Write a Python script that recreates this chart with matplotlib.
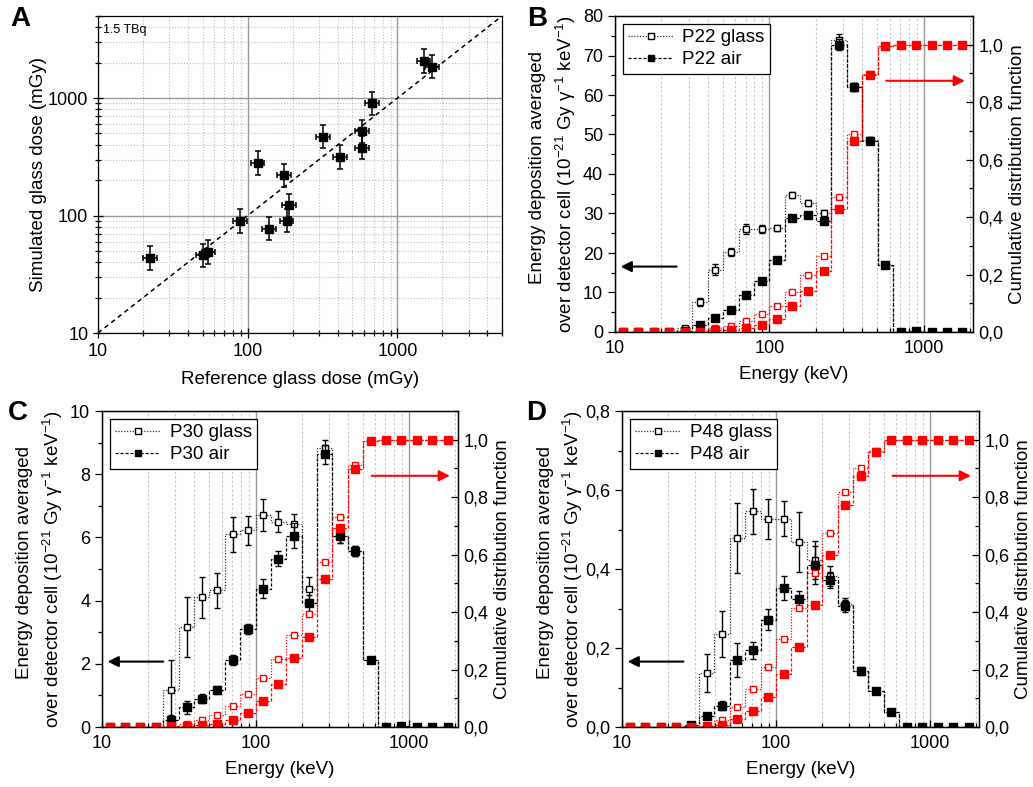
import numpy as np
import matplotlib.pyplot as plt
from matplotlib.transforms import ScaledTranslation
from matplotlib.ticker import LogLocator, FuncFormatter, NullFormatter, MultipleLocator, FixedLocator

plt.rcParams['font.family'] = ['Liberation Sans', 'DejaVu Sans']
plt.rcParams['mathtext.default'] = 'regular'
plt.rcParams['axes.linewidth'] = 0.9

# ---- panel A: reference vs simulated glass dose (mGy) ----
ref_dose = [22.2, 50, 54.6, 88.9, 116.7, 139, 175, 182, 189, 319, 413, 580, 580, 676, 1500, 1706]
sim_dose = [43.6, 45.7, 49.1, 90, 281, 77.4, 220, 90.6, 122, 469, 314, 521, 378, 900, 2075, 1857]
ref_err_dex = 0.045   # half width of horizontal error bars (log10 units)
sim_err_dex = 0.10    # half width of vertical error bars (log10 units)

# ---- energy bins (keV) for panels B-D ----
bin_edges = [10, 12.6, 15.8, 20, 25.1, 31.6, 39.8, 50.1, 63.1, 79.4, 100, 126, 158, 200,
             251, 316, 398, 501, 631, 794, 1000, 1259, 1585, 1995]
bin_centres = [11.2, 14.1, 17.8, 22.4, 28.2, 35.5, 44.7, 56.2, 70.8, 89.1, 112, 141, 178,
               224, 282, 355, 447, 562, 708, 891, 1122, 1413, 1778]

# P22
p22_glass = [0, 0, 0, 0, 1.0, 7.5, 15.8, 20.2, 26.1, 26.0, 26.3, 34.7, 32.7, 30.1, 73.9, 62.1,
             48.5, 16.9, 0, 0, 0, 0, 0]
p22_glass_err = [0, 0, 0, 0, 0.4, 1.0, 1.3, 1.0, 1.2, 1.0, 0.8, 0.8, 0.7, 0.7, 1.5, 1.0,
                 0.8, 0.4, 0, 0, 0, 0, 0]
p22_air = [0, 0, 0, 0, 0.3, 1.8, 3.5, 5.6, 9.3, 13.0, 18.2, 28.8, 29.6, 28.2, 72.7, 62.1,
           48.3, 16.9, 0, 0.3, 0, 0, 0]
p22_air_err = [0, 0, 0, 0, 0.1, 0.2, 0.3, 0.4, 0.5, 0.6, 0.6, 0.8, 0.8, 0.8, 1.4, 1.0,
               0.8, 0.4, 0, 0, 0, 0, 0]
p22_glass_cdf = [0, 0, 0, 0, 0.002, 0.005, 0.014, 0.020, 0.037, 0.062, 0.091, 0.138, 0.197,
                 0.264, 0.470, 0.688, 0.898, 0.997, 1.0, 1.0, 1.0, 1.0, 1.0]
p22_air_cdf = [0, 0, 0, 0, 0, 0.001, 0.008, 0.006, 0.014, 0.024, 0.045, 0.090, 0.144,
               0.212, 0.429, 0.665, 0.894, 0.997, 1.0, 1.0, 1.0, 1.0, 1.0]

# P30
p30_glass = [0, 0, 0, 0, 1.16, 3.16, 4.11, 4.32, 6.10, 6.22, 6.71, 6.50, 6.42, 4.38, 8.82, 6.03,
             5.57, 2.11, 0, 0, 0, 0, 0]
p30_glass_err = [0, 0, 0, 0, 0.95, 0.95, 0.65, 0.56, 0.56, 0.45, 0.50, 0.33, 0.33, 0.36, 0.27,
                 0.2, 0.15, 0.1, 0, 0, 0, 0, 0]
p30_air = [0, 0, 0, 0, 0.23, 0.62, 0.90, 1.18, 2.12, 3.10, 4.37, 5.33, 6.06, 3.93, 8.63, 6.03,
           5.57, 2.11, 0, 0.02, 0, 0, 0]
p30_air_err = [0, 0, 0, 0, 0.15, 0.2, 0.13, 0.12, 0.15, 0.17, 0.3, 0.25, 0.38, 0.25, 0.3,
               0.2, 0.15, 0.1, 0, 0, 0, 0, 0]
p30_glass_cdf = [0, 0, 0, 0, 0.001, 0.010, 0.026, 0.043, 0.073, 0.114, 0.170, 0.236, 0.320,
                 0.393, 0.573, 0.731, 0.913, 0.997, 1.0, 1.0, 1.0, 1.0, 1.0]
p30_air_cdf = [0, 0, 0, 0, 0.002, 0.003, 0.006, 0.012, 0.026, 0.047, 0.090, 0.150, 0.240,
               0.312, 0.514, 0.692, 0.898, 0.997, 1.0, 1.0, 1.0, 1.0, 1.0]

# P48
p48_glass = [0, 0, 0, 0, 0.003, 0.137, 0.235, 0.478, 0.546, 0.527, 0.527, 0.468, 0.422, 0.383,
             0.311, 0.142, 0.090, 0.038, 0, 0, 0, 0, 0]
p48_glass_err = [0, 0, 0, 0, 0, 0.048, 0.058, 0.089, 0.057, 0.050, 0.044, 0.076, 0.048, 0.025,
                 0.015, 0.008, 0.005, 0.003, 0, 0, 0, 0, 0]
p48_air = [0, 0, 0, 0, 0.006, 0.027, 0.054, 0.169, 0.194, 0.272, 0.352, 0.325, 0.410, 0.373,
           0.307, 0.141, 0.090, 0.038, 0, 0, 0, 0, 0]
p48_air_err = [0, 0, 0, 0, 0.003, 0.007, 0.012, 0.043, 0.021, 0.026, 0.030, 0.020, 0.047, 0.020,
               0.015, 0.010, 0.005, 0.003, 0, 0, 0, 0, 0]
p48_glass_cdf = [0, 0, 0, 0, 0, 0.002, 0.026, 0.069, 0.131, 0.208, 0.306, 0.413, 0.536, 0.676,
                 0.819, 0.901, 0.962, 1.0, 1.0, 1.0, 1.0, 1.0, 1.0]
p48_air_cdf = [0, 0, 0, 0, 0, 0.002, 0.008, 0.028, 0.055, 0.105, 0.185, 0.278, 0.426, 0.597,
               0.773, 0.874, 0.958, 1.0, 1.0, 1.0, 1.0, 1.0, 1.0]

FS = 13
W, H = 1033, 787


def box(l, t, r, b):
  return [l / W, 1 - b / H, (r - l) / W, (b - t) / H]


def comma(v, pos):
  return ('%.1f' % v).replace('.', ',')


def draw_dose_panel(ax):
  x = np.array(ref_dose)
  y = np.array(sim_dose)
  xerr = [x - x / 10 ** ref_err_dex, x * 10 ** ref_err_dex - x]
  yerr = [y - y / 10 ** sim_err_dex, y * 10 ** sim_err_dex - y]
  ax.plot([10, 5000], [10, 5000], color='k', ls=(0, (3, 2.5)), lw=1.1, zorder=2)
  ax.errorbar(x, y, xerr=xerr, yerr=yerr, fmt='s', color='k', ms=5.2, elinewidth=1.1,
              capsize=2.5, capthick=1.1, zorder=3)
  ax.set_xscale('log')
  ax.set_yscale('log')
  ax.set_xlim(10, 5000)
  ax.set_ylim(10, 5000)
  for axis in (ax.xaxis, ax.yaxis):
    axis.set_major_locator(FixedLocator([10, 100, 1000]))
    axis.set_major_formatter(FuncFormatter(lambda v, p: '%d' % v))
    axis.set_minor_locator(LogLocator(base=10, subs=np.arange(2, 10)))
    axis.set_minor_formatter(NullFormatter())
  ax.grid(True, which='major', color='#9a9a9a', lw=1.0, ls='-')
  ax.grid(True, which='minor', color='#bdbdbd', lw=0.8, ls=':')
  ax.tick_params(which='major', direction='inout', length=7, width=0.9, labelsize=FS)
  ax.tick_params(which='minor', direction='inout', length=4, width=0.9)
  ax.set_xlabel('Reference glass dose (mGy)', fontsize=FS + 0.5, labelpad=8)
  ax.set_ylabel('Simulated glass dose (mGy)', fontsize=FS + 0.5, labelpad=1)
  ax.text(0.012, 0.975, '1.5 TBq', transform=ax.transAxes, fontsize=9, va='top', ha='left')


def draw_spectrum_panel(ax, name, glass, glass_err, air, air_err, glass_cdf, air_cdf, ymax, ystep, yfmt):
  ax.stairs(glass, bin_edges, baseline=None, color='#333333', ls=(0, (1, 1.3)), lw=0.9, zorder=2)
  ax.stairs(air, bin_edges, baseline=None, color='k', ls=(0, (2.5, 1.5)), lw=0.9, zorder=2)
  ax.errorbar(bin_centres, glass, yerr=glass_err, fmt='s', mfc='white', mec='k', color='k',
              ms=5, mew=1.0, elinewidth=1.0, capsize=2, capthick=1.0, zorder=3)
  ax.errorbar(bin_centres, air, yerr=air_err, fmt='s', mfc='k', mec='k', color='k',
              ms=5.5, elinewidth=1.0, capsize=2, capthick=1.0, zorder=4)
  # legend proxies
  ax.plot([], [], color='#333333', ls=(0, (1, 1.3)), lw=0.9, marker='s', mfc='white', mec='k',
          ms=4, label=name + ' glass')
  ax.plot([], [], color='k', ls=(0, (2.5, 1.5)), lw=0.9, marker='s', mfc='k', mec='k',
          ms=5, label=name + ' air')
  ax.set_xscale('log')
  ax.set_xlim(10, 2080)
  ax.set_ylim(0, ymax)
  ax.xaxis.set_major_locator(FixedLocator([10, 100, 1000]))
  ax.xaxis.set_major_formatter(FuncFormatter(lambda v, p: '%d' % v))
  ax.xaxis.set_minor_locator(LogLocator(base=10, subs=np.arange(2, 10)))
  ax.xaxis.set_minor_formatter(NullFormatter())
  ax.yaxis.set_major_locator(MultipleLocator(ystep))
  ax.yaxis.set_minor_locator(MultipleLocator(ystep / 2))
  ax.yaxis.set_major_formatter(FuncFormatter(yfmt))
  ax.grid(True, axis='x', which='major', color='#9a9a9a', lw=1.0, ls='-')
  ax.grid(True, axis='x', which='minor', color='#c4c4c4', lw=0.8, ls=(0, (2, 2)))
  ax.tick_params(axis='y', which='major', direction='out', length=5, width=0.9, labelsize=FS)
  ax.tick_params(axis='y', which='minor', direction='out', length=3, width=0.9)
  ax.tick_params(axis='x', which='major', direction='in', length=5, width=0.9, labelsize=FS, pad=6)
  ax.tick_params(axis='x', which='minor', direction='in', length=3, width=0.9)
  ax.set_xlabel('Energy (keV)', fontsize=FS + 0.5, labelpad=6)

  # two-line y label, each line its own text
  line1 = ax.transAxes + ScaledTranslation(-0.77, 0, ax.figure.dpi_scale_trans)
  line2 = ax.transAxes + ScaledTranslation(-0.495, 0, ax.figure.dpi_scale_trans)
  ax.text(0, 0.52, 'Energy deposition averaged', transform=line1, rotation=90,
          ha='center', va='center', fontsize=FS + 0.5)
  ax.text(0, 0.5, 'over detector cell (10$^{-21}$ Gy γ$^{-1}$ keV$^{-1}$)', transform=line2,
          rotation=90, ha='center', va='center', fontsize=FS + 0.5)

  leg = ax.legend(loc='upper left', fontsize=FS + 0.5, frameon=True, fancybox=False,
                  edgecolor='k', framealpha=1, handlelength=2.4, handletextpad=0.5,
                  borderaxespad=0.4, borderpad=0.3, labelspacing=0.25)
  leg.get_frame().set_linewidth(0.9)
  ax.annotate('', xy=(0.008, 0.207), xytext=(0.18, 0.207), xycoords='axes fraction',
              arrowprops=dict(arrowstyle='-|>', color='k', lw=1.5, mutation_scale=16))

  rax = ax.twinx()
  rax.stairs(glass_cdf, bin_edges, baseline=None, color='red', ls=(0, (1, 1.3)), lw=0.9)
  rax.stairs(air_cdf, bin_edges, baseline=None, color='red', ls=(0, (2.5, 1.5)), lw=0.9)
  rax.plot(bin_centres, glass_cdf, 's', mfc='white', mec='red', ms=5, mew=1.0, ls='none')
  rax.plot(bin_centres, air_cdf, 's', mfc='red', mec='red', ms=5.5, ls='none')
  rax.set_ylim(0, 1.1)
  rax.yaxis.set_major_locator(MultipleLocator(0.2))
  rax.yaxis.set_minor_locator(MultipleLocator(0.1))
  rax.yaxis.set_major_formatter(FuncFormatter(comma))
  rax.tick_params(which='major', direction='in', length=5, width=0.9, labelsize=FS, pad=4)
  rax.tick_params(which='minor', direction='in', length=3, width=0.9)
  rax.set_ylabel('Cumulative distribution function', fontsize=FS + 0.5, labelpad=4)
  rax.annotate('', xy=(0.985, 0.795), xytext=(0.75, 0.795), xycoords='axes fraction',
               arrowprops=dict(arrowstyle='-|>', color='red', lw=1.5, mutation_scale=16))


fig = plt.figure(figsize=(W / 100, H / 100), dpi=100)

ax_a = fig.add_axes(box(98, 16, 502, 333))
draw_dose_panel(ax_a)

ax_b = fig.add_axes(box(615, 16, 973, 332))
draw_spectrum_panel(ax_b, 'P22', p22_glass, p22_glass_err, p22_air, p22_air_err,
                    p22_glass_cdf, p22_air_cdf, 80, 10, lambda v, p: '%d' % v)

ax_c = fig.add_axes(box(102, 411, 458, 727))
draw_spectrum_panel(ax_c, 'P30', p30_glass, p30_glass_err, p30_air, p30_air_err,
                    p30_glass_cdf, p30_air_cdf, 10, 2, lambda v, p: '%d' % v)

ax_d = fig.add_axes(box(622, 411, 979, 727))
draw_spectrum_panel(ax_d, 'P48', p48_glass, p48_glass_err, p48_air, p48_air_err,
                    p48_glass_cdf, p48_air_cdf, 0.8, 0.2, comma)

for lbl, x, y in [('A', 10, 6), ('B', 527, 6), ('C', 8, 400), ('D', 526, 400)]:
  fig.text(x / W, 1 - y / H, lbl, fontsize=20, fontweight='bold', va='top', ha='left')

fig.savefig('out.png', dpi=100)
